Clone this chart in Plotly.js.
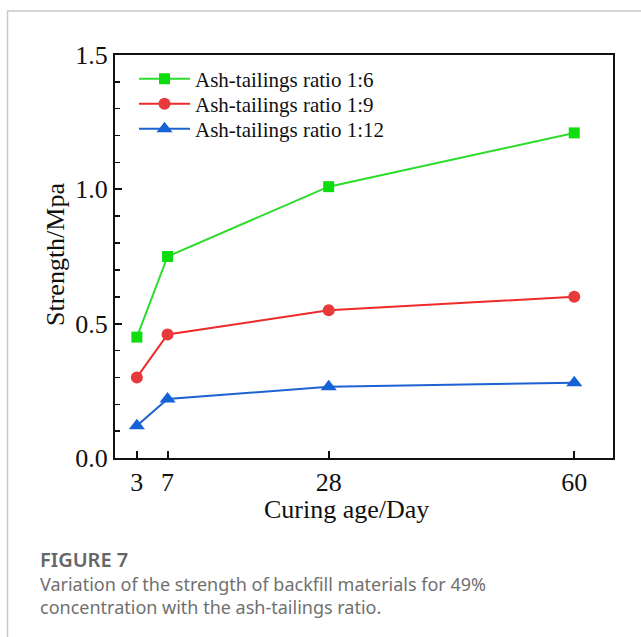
<!DOCTYPE html>
<html>
<head>
<meta charset="utf-8">
<script src="https://cdn.plot.ly/plotly-3.0.1.min.js"></script>
<style>
html,body{margin:0;padding:0;background:#fff;}
#chart{width:641px;height:637px;}
</style>
</head>
<body>
<div id="chart"></div>
<script>
// ---- data ----
const days = [3, 7, 28, 60];
const ratio16 = [0.45, 0.75, 1.01, 1.21];
const ratio19 = [0.30, 0.46, 0.55, 0.60];
const ratio112 = [0.12, 0.22, 0.265, 0.28];
const seriesNames = ["Ash-tailings ratio 1:6", "Ash-tailings ratio 1:9", "Ash-tailings ratio 1:12"];
const xTickVals = [3, 7, 28, 60];
const yTickVals = [0, 0.5, 1.0, 1.5];
const yTickText = ["0.0", "0.5", "1.0", "1.5"];
const xTitle = "Curing age/Day";
const yTitle = "Strength/Mpa";
const figLabel = "FIGURE 7";
const captionLines = ["Variation of the strength of backfill materials for 49%", "concentration with the ash-tailings ratio."];

// ---- geometry helpers (plot area in pixels) ----
const W = 641, H = 637;
const L = 115, R = 613, T = 55, B = 458;
const px = x => (x - L) / (R - L);
const py = y => (B - y) / (B - T);

const serif = "'Liberation Serif', 'Times New Roman', serif";
const sans = "'Noto Sans', 'Open Sans', sans-serif";

const traces = [
  {x: days, y: ratio16, name: seriesNames[0], mode: "lines+markers", legend: "legend",
   line: {color: "#2bdc2b", width: 2}, marker: {symbol: "square", size: 11, color: "#0fdc0f"}},
  {x: days, y: ratio19, name: seriesNames[1], mode: "lines+markers", legend: "legend2",
   line: {color: "#ee2a2a", width: 2}, marker: {symbol: "circle", size: 12, color: "#e83a3a"}},
  {x: days, y: ratio112, name: seriesNames[2], mode: "lines+markers", legend: "legend3",
   line: {color: "#1c62d0", width: 2}, marker: {symbol: "triangle-up", size: 14, color: "#1462d6"}}
];

const legendBase = (yc) => ({x: px(134), y: py(yc), xanchor: "left", yanchor: "middle",
  font: {family: serif, size: 21, color: "#111"}, bgcolor: "rgba(0,0,0,0)", borderwidth: 0,
  itemwidth: 51});

const layout = {
  width: W, height: H,
  margin: {l: L, r: W - R, t: T, b: H - B, pad: 0},
  paper_bgcolor: "#fff", plot_bgcolor: "#fff",
  showlegend: true,
  legend: legendBase(79),
  legend2: legendBase(104),
  legend3: legendBase(129),
  xaxis: {range: [0.15, 65.05], tickmode: "array", tickvals: xTickVals,
    ticks: "inside", ticklen: 7, tickwidth: 2, tickcolor: "#111",
    showline: true, linecolor: "#111", linewidth: 2, mirror: true,
    showgrid: false, zeroline: false,
    tickfont: {family: serif, size: 26, color: "#111"}},
  yaxis: {range: [0, 1.5], tickmode: "array", tickvals: yTickVals, ticktext: yTickText,
    ticks: "inside", ticklen: 7, tickwidth: 2, tickcolor: "#111",
    minor: {dtick: 0.1, tick0: 0, ticks: "inside", ticklen: 5, tickwidth: 1.5, tickcolor: "#111", showgrid: false},
    showline: true, linecolor: "#111", linewidth: 2, mirror: true,
    showgrid: false, zeroline: false,
    tickfont: {family: serif, size: 26, color: "#111"}},
  shapes: [
    {type: "path", xref: "paper", yref: "paper",
     path: `M ${px(7.5)} ${py(H + 5)} L ${px(7.5)} ${py(11)} L ${px(W + 5)} ${py(11)}`,
     line: {color: "#c8c8c8", width: 1.5}}
  ],
  annotations: [
    {text: xTitle, xref: "paper", yref: "paper", x: px(346), y: py(510),
     xanchor: "center", yanchor: "middle", showarrow: false,
     font: {family: serif, size: 26, color: "#111"}},
    {text: yTitle, xref: "paper", yref: "paper", x: px(55), y: py(255),
     xanchor: "center", yanchor: "middle", showarrow: false, textangle: -90,
     font: {family: serif, size: 26, color: "#111"}},
    {text: figLabel, xref: "paper", yref: "paper", x: px(38), y: py(559),
     xanchor: "left", yanchor: "middle", showarrow: false,
     font: {family: sans, size: 20, color: "#666", weight: 600}},
    {text: captionLines[0], xref: "paper", yref: "paper", x: px(38), y: py(584),
     xanchor: "left", yanchor: "middle", showarrow: false,
     font: {family: sans, size: 18, color: "#707070"}},
    {text: captionLines[1], xref: "paper", yref: "paper", x: px(38), y: py(607),
     xanchor: "left", yanchor: "middle", showarrow: false,
     font: {family: sans, size: 18, color: "#707070"}}
  ]
};

Plotly.newPlot("chart", traces, layout, {displayModeBar: false, staticPlot: true});
</script>
</body>
</html>
